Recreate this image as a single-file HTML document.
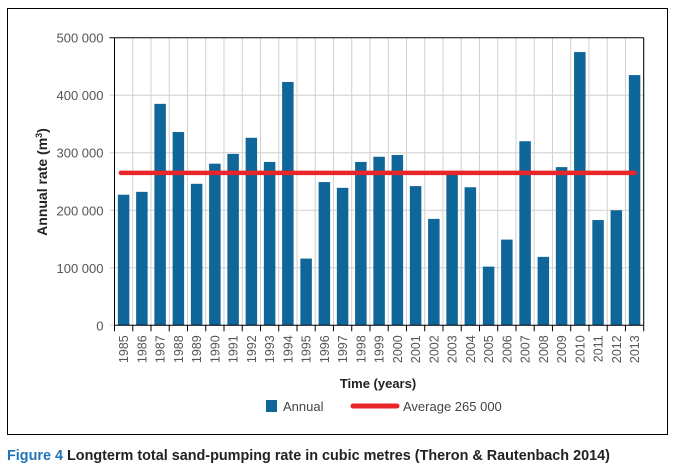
<!DOCTYPE html>
<html><head><meta charset="utf-8"><style>
body{margin:0;background:#fff;width:677px;height:466px;overflow:hidden;font-family:"Liberation Sans",sans-serif}
svg{display:block}
</style></head><body>
<svg width="677" height="466">
<rect x="7.5" y="8.5" width="660" height="426" fill="none" stroke="#000" stroke-width="1"/>
<g id="grid"></g><g id="bars"></g><g id="axes"></g>
<text x="47" y="182" transform="rotate(-90 47 182)" text-anchor="middle" font-size="14" font-weight="bold" fill="#222">Annual rate (m<tspan dy="-5" font-size="9">3</tspan><tspan dy="5">)</tspan></text>
<text x="378" y="388" text-anchor="middle" font-size="13" font-weight="bold" fill="#222">Time (years)</text>
<rect x="266" y="400" width="11" height="12" fill="#0f6699"/>
<text x="283" y="411" font-size="13" fill="#444">Annual</text>
<line x1="353" y1="406" x2="397" y2="406" stroke="#e8262a" stroke-width="5" stroke-linecap="round"/>
<text x="403" y="411" font-size="13" fill="#444">Average 265 000</text>
<text x="7" y="460" font-size="14.4" font-weight="bold" fill="#222"><tspan fill="#1f73b7">Figure 4</tspan> Longterm total sand-pumping rate in cubic metres (Theron &amp; Rautenbach 2014)</text>
</svg>
<script>
const years=[1985,1986,1987,1988,1989,1990,1991,1992,1993,1994,1995,1996,1997,1998,1999,2000,2001,2002,2003,2004,2005,2006,2007,2008,2009,2010,2011,2012,2013];
const annual=[227000,232000,385000,336000,246000,281000,298000,326000,284000,423000,116000,249000,239000,284000,293000,296000,242000,185000,262000,240000,102000,149000,320000,119000,275000,475000,183000,200000,435000];
const average=[265000];
const yTicks=[0,100000,200000,300000,400000,500000];
const yTickLabels=["0","100 000","200 000","300 000","400 000","500 000"];
const L=114.5,R=643.7,T=37.7,B=325.3,NS="http://www.w3.org/2000/svg";
const step=(R-L)/years.length;
const y=v=>B-(v/500000)*(B-T);
const x=i=>L+i*step;
function mk(tag,attrs,parent){const e=document.createElementNS(NS,tag);for(const k in attrs)e.setAttribute(k,attrs[k]);document.getElementById(parent).appendChild(e);return e;}
for(let i=0;i<=years.length;i++){
 const g=mk('line',{x1:x(i),x2:x(i),y1:T,y2:B,stroke:'#d0d0d0','stroke-width':1},'grid');
 
 
 const t=mk('line',{x1:x(i),x2:x(i),y1:B,y2:B+6,stroke:'#000','stroke-width':1},'axes');
 
 
}
yTicks.forEach((v,k)=>{
 const g=mk('line',{x1:L-5,x2:R,y1:y(v),y2:y(v),stroke:k==yTicks.length-1?'#000':'#d0d0d0','stroke-width':1},'grid');
 
 
 const tx=mk('text',{x:L-11,y:y(v)+5,'text-anchor':'end','font-size':13,fill:'#555'},'axes');
 tx.textContent=yTickLabels[k];
 
 
});
const bw=step*0.63;
annual.forEach((v,i)=>{
 const b=mk('rect',{x:x(i)+(step-bw)/2,y:y(v),width:bw,height:B-y(v),fill:'#0f6699'},'bars');
 
 
 const cx=x(i)+step/2;
 const tl=mk('text',{x:0,y:0,'text-anchor':'end','font-size':12.5,fill:'#555',transform:`translate(${cx+4.5},${B+10}) rotate(-90)`},'axes');
 tl.textContent=years[i];
 
 
});
const a=mk('line',{x1:x(0)+step*0.35,x2:x(years.length)-step*0.5,y1:y(average[0]),y2:y(average[0]),stroke:'#e8262a','stroke-width':4.5,'stroke-linecap':'round'},'bars');


mk('line',{x1:L,x2:L,y1:T,y2:B+6,stroke:'#000','stroke-width':1},'axes');
mk('line',{x1:R,x2:R,y1:T,y2:B,stroke:'#000','stroke-width':1},'axes');
mk('line',{x1:L,x2:R,y1:B,y2:B,stroke:'#000','stroke-width':1},'axes');
</script>
</body></html>
